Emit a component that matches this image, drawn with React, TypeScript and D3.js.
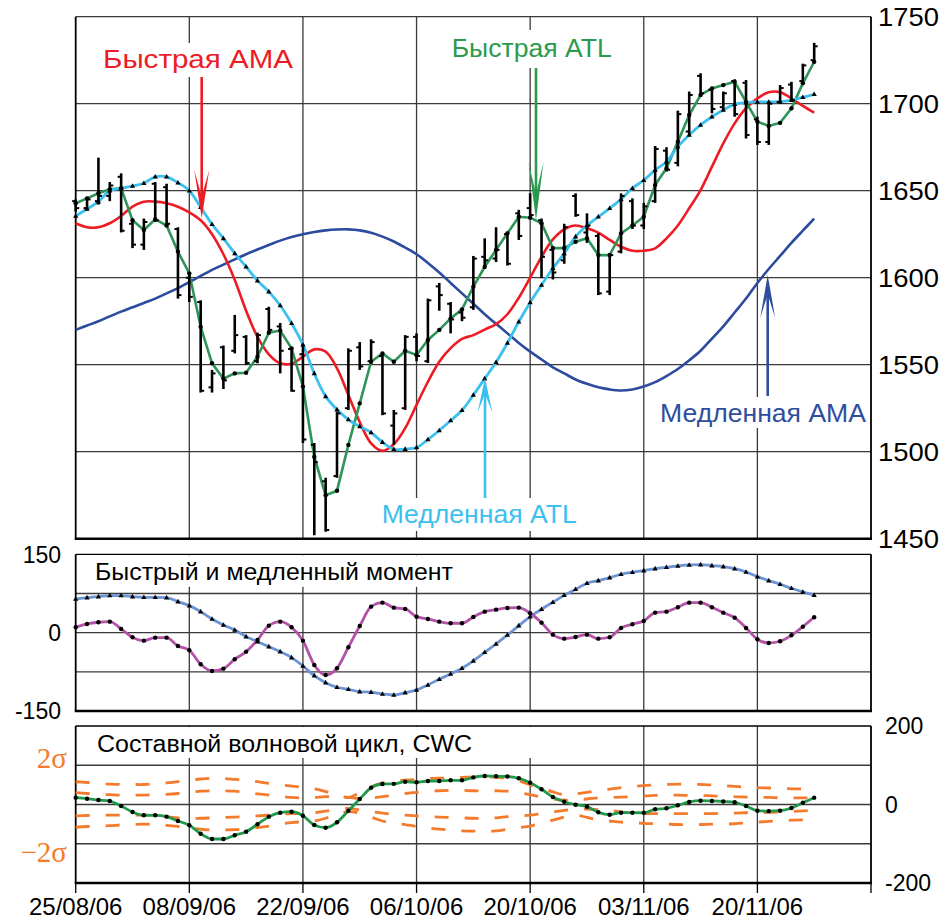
import React from 'react';
import * as d3 from 'd3';

// --- data (one bar per trading day) ---
const dateLabels = ['25/08/06', '08/09/06', '22/09/06', '06/10/06', '20/10/06', '03/11/06', '20/11/06'];
const priceTicks = [1750, 1700, 1650, 1600, 1550, 1500, 1450];

const high = [1645, 1646, 1669, 1655, 1660, 1633, 1634, 1655, 1654, 1629,
  1602.5, 1587, 1547, 1561, 1578.6, 1567, 1568.4, 1583.3, 1574, 1560,
  1562, 1505, 1485, 1523, 1559.4, 1563, 1564.6, 1556.5, 1524, 1567,
  1568, 1588, 1597, 1586, 1582, 1612.5, 1622.6, 1629, 1626.4, 1639,
  1648.5, 1634, 1618, 1631, 1648.5, 1637, 1625.5, 1614, 1648.5, 1645.6,
  1643, 1675.7, 1675, 1696, 1707, 1717.5, 1709.4, 1707, 1714, 1713.6,
  1692.5, 1701, 1710.7, 1712.6, 1723, 1735];
const low = [1638, 1639, 1642, 1644, 1626, 1617, 1616, 1632, 1630, 1588,
  1586, 1534, 1534, 1536, 1556.5, 1550, 1550.8, 1568, 1545, 1534.5,
  1505, 1452, 1454, 1485, 1524, 1547, 1550.8, 1521, 1504, 1524,
  1552, 1551, 1581, 1568, 1575, 1581.5, 1605, 1609, 1607, 1621.7,
  1635, 1599.7, 1599, 1608, 1635, 1620, 1590, 1590, 1614, 1628,
  1628, 1643, 1661, 1664, 1682, 1705, 1694.5, 1696, 1692.5, 1680,
  1676.3, 1676.3, 1700, 1701, 1712.6, 1724.7];
const open = [1644, 1640, 1644, 1647, 1658, 1631, 1619, 1654, 1652, 1628,
  1600, 1586, 1537, 1560, 1558, 1566, 1552, 1582, 1572, 1559,
  1556, 1504, 1483, 1486, 1525, 1560, 1552, 1555, 1515, 1525,
  1566, 1552, 1595, 1585, 1580, 1583, 1612, 1611, 1625, 1637,
  1640, 1633, 1616, 1610, 1647, 1626, 1624, 1592, 1615, 1644,
  1630, 1644, 1673, 1666, 1684, 1716, 1708, 1698, 1713, 1712,
  1691, 1678, 1701, 1711, 1713, 1725];
const close = [1640, 1645, 1647, 1653, 1627, 1619, 1632, 1633, 1631, 1590,
  1589, 1535, 1545, 1541, 1567, 1551, 1567, 1570, 1558, 1535,
  1507, 1494, 1455, 1522, 1558, 1549, 1563, 1522, 1522, 1566,
  1555, 1587, 1590, 1576, 1577, 1611, 1610, 1616, 1608, 1624,
  1636, 1612, 1603, 1629, 1636, 1630, 1591, 1613, 1647, 1630,
  1641, 1674, 1662, 1694, 1705, 1706, 1697, 1706, 1694, 1682,
  1678, 1700, 1709, 1702, 1722, 1733];

const fastAtl = [1642.8, 1645.6, 1648.5, 1650.8, 1651.4, 1633, 1627.4, 1633.6, 1630, 1615,
  1602.5, 1571.8, 1550.8, 1542, 1545, 1545.4, 1554.6, 1568.4, 1569.6, 1559.4,
  1537.4, 1497, 1475, 1477.6, 1503.9, 1527.8, 1551.7, 1556.5, 1551.7, 1558,
  1555.6, 1564.2, 1570, 1576.5, 1581.8, 1594.8, 1606.3, 1616, 1625.5, 1635,
  1634.5, 1631.3, 1617, 1617, 1620.7, 1622.6, 1613, 1613, 1625.5, 1630,
  1635, 1653.3, 1662.9, 1678.2, 1693.5, 1705, 1708.8, 1710.7, 1712.6, 1701,
  1689.7, 1687.2, 1689, 1697.4, 1711.7, 1724.1];
const slowAtl = [1635.5, 1639.5, 1643.7, 1650, 1651.4, 1652.7, 1654.3, 1658, 1658, 1654.6,
  1650, 1640.5, 1630.7, 1622.6, 1614, 1606.3, 1598.3, 1592, 1584, 1573.8,
  1561.5, 1545, 1531.8, 1524.2, 1518.5, 1514.5, 1511, 1505.5, 1501.4, 1501.5,
  1502.4, 1507, 1512.2, 1517.9, 1523.8, 1532.6, 1542, 1551.4, 1562.5, 1574.7,
  1585.8, 1595.8, 1605.4, 1614, 1623.6, 1630, 1635, 1639.9, 1645, 1651.4,
  1656, 1661.9, 1666.7, 1675.3, 1682, 1687.8, 1692.5, 1696.4, 1699.7, 1700.6,
  1701, 1701, 1701.2, 1702.1, 1703.7, 1705.4];
const fastAma = [1631.3, 1629, 1629, 1631.3, 1635.5, 1640.8, 1643.7, 1643.7, 1642.8, 1640.8,
  1637.5, 1633, 1625, 1613.5, 1598.7, 1581, 1566, 1556, 1550.8, 1550.6,
  1554.6, 1558.8, 1557.5, 1547.9, 1532.6, 1517, 1504.8, 1500.5, 1504.3, 1513.5,
  1526.9, 1540.2, 1551.7, 1559.5, 1564.8, 1567, 1570.2, 1573.3, 1579, 1588.5,
  1600, 1612, 1622, 1627.8, 1630, 1628.4, 1625.9, 1621.7, 1617.8, 1615.5,
  1615.5, 1616.9, 1622.6, 1630, 1639.9, 1650.4, 1663.8, 1677.2, 1688.7, 1697.4,
  1703.1, 1706.6, 1706.6, 1703.1, 1698.7, 1694.8];
const slowAma = [1570, 1572.5, 1575, 1577.8, 1580.5, 1583, 1585.5, 1588, 1591, 1594,
  1597.5, 1601, 1604.5, 1607.5, 1610.5, 1613.5, 1616.2, 1618.8, 1621.3, 1623.4,
  1625, 1626.3, 1627.2, 1627.7, 1627.8, 1627.2, 1625.8, 1623.6, 1620.8, 1617.3,
  1613.5, 1608.5, 1603, 1597, 1591, 1585, 1579, 1573.5, 1568, 1562.5,
  1557.5, 1553, 1548.5, 1545, 1541.5, 1539, 1537, 1535.8, 1535.2, 1535.8,
  1537.5, 1540, 1543.5, 1547.5, 1552.5, 1558, 1565, 1572, 1580, 1588,
  1597, 1605, 1612.5, 1620, 1627, 1634];

const slowMom = [64.5, 67, 69, 71, 71, 69, 67.7, 67.7, 67, 59.4,
  51.7, 40.2, 26.2, 14.7, 5.2, -7.6, -17.2, -26.8, -36.4, -47.9,
  -63.8, -82.3, -95.7, -104.5, -108.4, -113, -114.1, -117.4, -119.3, -114.9,
  -109.7, -100.1, -89.2, -79.1, -68.2, -54, -37.6, -21.6, -4.4, 13.4,
  30.6, 44.8, 58.2, 71.6, 83, 94.6, 99.6, 105.3, 111.8, 115.6,
  118.7, 122.5, 125.2, 127.7, 129.6, 130.2, 128.3, 126.4, 122.5, 116.2,
  107.2, 99.6, 92.6, 85, 77.9, 71.6];
const fastMom = [10.3, 16.7, 19.9, 21.1, 7.1, -8.8, -15.3, -9.6, -9.6, -25.5,
  -33.7, -60.5, -73.3, -68.9, -50.9, -36.4, -14, 13.4, 21.1, 10.3,
  -15.3, -61.8, -81, -68.2, -28, 12.8, 49.8, 57.4, 47.9, 45.4,
  30.6, 26.2, 21.1, 18, 18, 30, 40.2, 44, 47.3, 47.9,
  37.1, 19.1, -3.8, -11.5, -8.2, -3.8, -11.5, -8.8, 9, 16.1,
  22.4, 38.3, 40.2, 48.6, 57.4, 57.4, 48.6, 38.3, 28.7, 9,
  -12.6, -19.7, -16.5, -5, 11.5, 29.5];

const cwc = [17.4, 14.8, 11.5, 8.9, -3.8, -19.1, -27.5, -27.5, -31, -42,
  -53, -74.4, -87.9, -87.9, -78.5, -69.3, -50.4, -31, -20.9, -18.3,
  -28.5, -52.2, -59.1, -45.4, -15.8, 14, 42.8, 52.2, 52.6, 58.1,
  56.6, 59.9, 59.9, 61.6, 61.6, 69, 72.6, 72, 71.3, 66.7,
  55.5, 38.7, 19.1, 7.1, -0.5, -5.6, -19.9, -26, -20.9, -20.9,
  -21.2, -12.2, -9.7, -2, 6.4, 9.7, 9, 7.6, 5.6, -3.8,
  -15.8, -17, -15.8, -8.9, 4.6, 17.4];
const bandOuterUp = [58, 56, 54, 52, 51, 51, 51, 53, 55, 58,
  62, 65, 67, 66, 64, 62, 58, 54, 50, 47,
  44, 40, 33, 24, 18, 30, 45, 55, 60, 62,
  64, 66, 67, 68, 69, 70, 70, 69, 67, 60,
  50, 42, 32, 25, 27, 31, 35, 39, 43, 46,
  48, 50, 51, 52, 52, 51, 50, 48, 46, 44,
  43, 42, 41, 40, 40, 40];
const bandInnerUp = [30, 28, 26, 25, 24, 24, 24, 25, 26, 28,
  31, 34, 35, 35, 34, 31, 27, 24, 21, 18,
  17, 18, 20, 20, 18, 15, 16, 20, 24, 28,
  31, 34, 35, 36, 36, 35, 35, 35, 34, 30,
  25, 19, 14, 11, 12, 14, 17, 18, 19, 20,
  22, 23, 24, 24, 23, 23, 22, 21, 20, 19,
  18, 18, 17, 17, 17, 17];
const bandInnerDn = [-29, -28, -27, -27, -27, -27, -27, -28, -31, -34,
  -35, -35, -34, -33, -32, -31, -29, -27, -25, -23,
  -22, -21, -17, -12, -10, -14, -18, -22, -25, -27,
  -29, -31, -32, -33, -34, -35, -35, -34, -31, -29,
  -27, -23, -19, -15, -12, -12, -13, -15, -19, -22,
  -23, -23, -23, -23, -23, -23, -23, -22, -22, -21,
  -21, -20, -19, -18, -16, -15];
const bandOuterDn = [-58, -56, -55, -54, -52, -51, -50, -51, -53, -56,
  -60, -63, -65, -65, -64, -63, -59, -55, -50, -46,
  -44, -42, -35, -25, -18, -22, -32, -42, -47, -51,
  -56, -60, -63, -65, -67, -68, -68, -67, -63, -59,
  -55, -47, -40, -32, -27, -33, -39, -42, -45, -46,
  -48, -49, -50, -51, -51, -51, -50, -50, -49, -47,
  -45, -43, -41, -40, -39, -40];

const FONT = '"Liberation Sans", Arial, sans-serif';
const GRID = '#3a3a3a';

const X0 = 75.7;
const X1 = 871;
const main = { top: 16.7, bottom: 538.7 };
const mom = { top: 554.3, bottom: 711 };
const cyc = { top: 726, bottom: 883 };

const idx = d3.range(high.length);
const gridIdx = d3.range(0, 71, 10);

const Arrow: React.FC<{ x: number; from: number; tip: number; len: number; color: string }> = ({ x, from, tip, len, color }) => {
  const dir = tip > from ? 1 : -1;
  const w = 7.5;
  const back = tip - dir * len;
  const notch = tip - dir * len * 0.45;
  return (
    <g>
      <line x1={x} x2={x} y1={from} y2={notch} stroke={color} strokeWidth={2.6} />
      <path d={`M${x},${tip}L${x - w},${back}L${x},${notch}L${x + w},${back}Z`} fill={color} />
    </g>
  );
};

export default function App() {
  const x = d3.scaleLinear().domain([0, 70]).range([X0, X1]);
  const yP = d3.scaleLinear().domain([1450, 1750]).range([main.bottom, main.top]);
  const yM = d3.scaleLinear().domain([-150, 150]).range([mom.bottom, mom.top]);
  const yC = d3.scaleLinear().domain([-200, 200]).range([cyc.bottom, cyc.top]);

  const lineOf = (arr: number[], y: d3.ScaleLinear<number, number>, curve: d3.CurveFactory) =>
    d3.line<number>().x((_, i) => x(i)).y(d => y(d)).curve(curve)(arr) || '';

  const tri = (cx: number, cy: number) => `M${cx},${cy - 2.8}L${cx + 2.6},${cy + 1.8}L${cx - 2.6},${cy + 1.8}Z`;

  const vGrid = (top: number, bottom: number) =>
    gridIdx.slice(1, -1).map(g => (
      <line key={g} x1={x(g)} x2={x(g)} y1={top} y2={bottom} stroke={GRID} strokeWidth={1.3} />
    ));

  return (
    <svg width={952} height={919} style={{ position: 'absolute', left: 0, top: 0, background: '#fff' }} fontFamily={FONT}>
      {/* ---------- price panel ---------- */}
      {priceTicks.slice(1, -1).map(t => (
        <line key={t} x1={X0} x2={X1} y1={yP(t)} y2={yP(t)} stroke={GRID} strokeWidth={1.3} />
      ))}
      {vGrid(main.top, main.bottom)}
      <line x1={X0} x2={X1} y1={main.top} y2={main.top} stroke={GRID} strokeWidth={1.3} />
      <line x1={X0} x2={X0} y1={main.top} y2={main.bottom} stroke="#000" strokeWidth={1.8} />
      <line x1={X1} x2={X1} y1={main.top} y2={main.bottom} stroke="#000" strokeWidth={1.8} />
      <line x1={X0 - 1} x2={X1 + 1} y1={main.bottom} y2={main.bottom} stroke="#000" strokeWidth={2.6} />

      {/* label masks */}
      <rect x={99} y={43} width={200} height={34} fill="#fff" />
      <rect x={448} y={30} width={168} height={38} fill="#fff" />
      <rect x={378} y={498} width={203} height={33} fill="#fff" />
      <rect x={656} y={397} width={213} height={31} fill="#fff" />

      <path d={lineOf(slowAma, yP, d3.curveCatmullRom)} fill="none" stroke="#2c4a9e" strokeWidth={2.6} />
      <path d={lineOf(fastAma, yP, d3.curveCatmullRom)} fill="none" stroke="#ed1c24" strokeWidth={2.6} />
      <path d={lineOf(fastAtl, yP, d3.curveLinear)} fill="none" stroke="#2e9458" strokeWidth={2.6} />
      <path d={lineOf(slowAtl, yP, d3.curveCatmullRom)} fill="none" stroke="#3cc0ee" strokeWidth={2.8} />

      {idx.map(i => (
        <g key={i} stroke="#000" strokeWidth={2.6}>
          <line x1={x(i)} x2={x(i)} y1={yP(high[i])} y2={yP(low[i])} />
          <line x1={x(i) - 3.5} x2={x(i)} y1={yP(open[i])} y2={yP(open[i])} strokeWidth={2} />
          <line x1={x(i)} x2={x(i) + 3.5} y1={yP(close[i])} y2={yP(close[i])} strokeWidth={2} />
        </g>
      ))}
      {idx.map(i => (
        <circle key={i} cx={x(i)} cy={yP(fastAtl[i])} r={2.2} fill="#000" />
      ))}
      {idx.map(i => (
        <path key={i} d={tri(x(i), yP(slowAtl[i]))} fill="#000" />
      ))}

      {priceTicks.map(t => (
        <text key={t} x={878} y={yP(t)} dy="0.36em" fontSize={25} textLength={61}
          lengthAdjust="spacingAndGlyphs">{t}</text>
      ))}

      <text x={103} y={68.3} fontSize={26} fill="#ed1c24" textLength={190} lengthAdjust="spacingAndGlyphs">Быстрая AMA</text>
      <Arrow x={201.7} from={77} tip={218} len={48} color="#ed1c24" />
      <text x={451.7} y={57.3} fontSize={25} fill="#2a9a4e" textLength={160} lengthAdjust="spacingAndGlyphs">Быстрая ATL</text>
      <Arrow x={536} from={68} tip={220} len={58} color="#2a9a4e" />
      <text x={381.7} y={523.3} fontSize={26} fill="#3cc0ee" textLength={195} lengthAdjust="spacingAndGlyphs">Медленная ATL</text>
      <Arrow x={485} from={498} tip={378} len={35} color="#3cc0ee" />
      <text x={660} y={421.7} fontSize={26} fill="#2f4d9e" textLength={206} lengthAdjust="spacingAndGlyphs">Медленная AMA</text>
      <Arrow x={767.7} from={396} tip={275} len={43} color="#2f4d9e" />

      {/* ---------- momentum panel ---------- */}
      {[75, 0, -75].map(t => (
        <line key={t} x1={X0} x2={X1} y1={yM(t)} y2={yM(t)} stroke={GRID} strokeWidth={1.3} />
      ))}
      {vGrid(mom.top, mom.bottom)}
      <rect x={X0 + 1} y={mom.top + 1} width={390} height={31.5} fill="#fff" />
      <line x1={X0} x2={X1} y1={mom.top} y2={mom.top} stroke="#000" strokeWidth={1.3} />
      <line x1={X0} x2={X0} y1={mom.top} y2={mom.bottom} stroke="#000" strokeWidth={1.8} />
      <line x1={X1} x2={X1} y1={mom.top} y2={mom.bottom} stroke="#000" strokeWidth={1.8} />
      <line x1={X0 - 1} x2={X1 + 1} y1={mom.bottom} y2={mom.bottom} stroke="#000" strokeWidth={2.6} />
      <text x={95} y={580} fontSize={23} textLength={358} lengthAdjust="spacingAndGlyphs">Быстрый и медленный момент</text>

      <path d={lineOf(slowMom, yM, d3.curveMonotoneX)} fill="none" stroke="#6c93d4" strokeWidth={2.8} />
      <path d={lineOf(fastMom, yM, d3.curveMonotoneX)} fill="none" stroke="#b452a8" strokeWidth={2.8} />
      {idx.map(i => (
        <path key={i} d={tri(x(i), yM(slowMom[i]))} fill="#000" />
      ))}
      {idx.map(i => (
        <circle key={i} cx={x(i)} cy={yM(fastMom[i])} r={2.2} fill="#000" />
      ))}
      {[150, 0, -150].map(t => (
        <text key={t} x={61} y={yM(t)} dy="0.36em" fontSize={23} textAnchor="end">{t}</text>
      ))}

      {/* ---------- CWC panel ---------- */}
      {[100, 0, -100].map(t => (
        <line key={t} x1={X0} x2={X1} y1={yC(t)} y2={yC(t)} stroke={GRID} strokeWidth={1.3} />
      ))}
      {vGrid(cyc.top, cyc.bottom)}
      <rect x={X0 + 1} y={cyc.top + 1} width={468} height={31} fill="#fff" />
      <line x1={X0} x2={X1} y1={cyc.top} y2={cyc.top} stroke="#000" strokeWidth={1.3} />
      <line x1={X0} x2={X0} y1={cyc.top} y2={cyc.bottom} stroke="#000" strokeWidth={1.8} />
      <line x1={X1} x2={X1} y1={cyc.top} y2={cyc.bottom} stroke="#000" strokeWidth={1.8} />
      <line x1={X0 - 1} x2={X1 + 1} y1={cyc.bottom} y2={cyc.bottom} stroke="#000" strokeWidth={2.6} />
      <text x={97} y={751.7} fontSize={23} textLength={375} lengthAdjust="spacingAndGlyphs">Составной волновой цикл, CWC</text>

      {[bandOuterUp, bandInnerUp, bandInnerDn, bandOuterDn].map((b, k) => (
        <path key={k} d={lineOf(b, yC, d3.curveCatmullRom)} fill="none" stroke="#f47a2c"
          strokeWidth={2.8} strokeDasharray="14 16" />
      ))}
      <path d={lineOf(cwc, yC, d3.curveMonotoneX)} fill="none" stroke="#1f9a4a" strokeWidth={2.8} />
      {idx.map(i => (
        <circle key={i} cx={x(i)} cy={yC(cwc[i])} r={2.2} fill="#000" />
      ))}
      {[200, 0, -200].map(t => (
        <text key={t} x={885} y={yC(t)} dy="0.36em" fontSize={23}>{t}</text>
      ))}
      <text x={67} y={758} dy="0.36em" fontSize={29} textAnchor="end" fill="#f47a2c"
        fontFamily='"Liberation Serif", "Times New Roman", serif'>2σ</text>
      <text x={67} y={851.7} dy="0.36em" fontSize={29} textAnchor="end" fill="#f47a2c"
        fontFamily='"Liberation Serif", "Times New Roman", serif'>−2σ</text>

      {gridIdx.map(g => (
        <line key={g} x1={x(g)} x2={x(g)} y1={cyc.bottom} y2={cyc.bottom + 10} stroke="#000" strokeWidth={1.3} />
      ))}
      {dateLabels.map((d, k) => (
        <text key={d} x={x(k * 10)} y={915} fontSize={24} textAnchor="middle">{d}</text>
      ))}
    </svg>
  );
}
